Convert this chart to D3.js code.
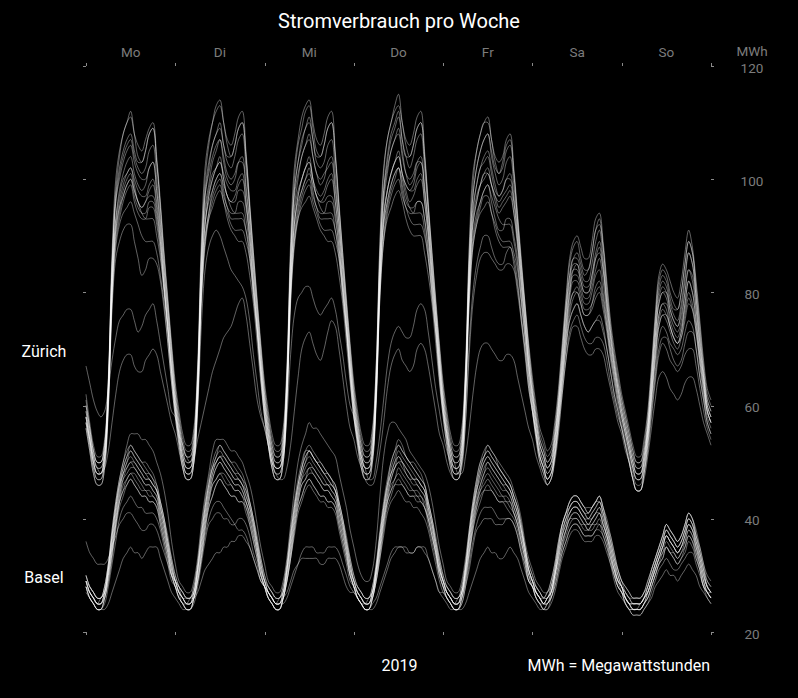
<!DOCTYPE html>
<html><head><meta charset="utf-8">
<script src="https://cdn.jsdelivr.net/npm/d3@7"></script>
<style>html,body{margin:0;background:#000;} svg{display:block;font-family:Roboto,"Noto Sans",sans-serif;}</style>
</head><body>
<svg id="chart" width="798" height="698"></svg>
<script>
// ---- labels ----
const days = ["Mo","Di","Mi","Do","Fr","Sa","So"];
const yTicks = [20,40,60,80,100,120];
const cities = ["Zürich","Basel"];

// ---- hourly consumption (MWh), one array per day Mo..So, last entry = Sunday 24:00 ----
const zh01 = [
[61,56,52,50,50,53,64,85,98,104,108,110,112,108,104,103,105,108,109,103,95,86,78,70],
[63,58,54,52,52,55,66,87,100,106,110,113,114,110,106,104,106,109,110,104,95,86,78,70],
[63,58,54,52,52,55,66,87,100,106,109,112,113,109,105,104,106,109,110,104,95,86,78,70],
[63,58,54,52,52,55,67,88,101,107,110,113,115,110,106,104,106,109,110,104,95,86,78,70],
[63,58,54,52,52,55,66,87,99,105,108,110,111,107,103,101,102,105,106,101,93,85,78,70],
[64,59,55,53,51,52,56,62,70,78,85,88,89,86,84,84,87,91,93,88,81,74,69,65],
[61,58,55,52,50,50,53,58,66,75,82,84,83,80,78,77,80,85,89,87,81,74,67,62],
[60]];
const zh02 = [
[60,56,52,50,50,53,64,84,96,101,104,106,107,104,102,101,102,105,106,100,93,84,77,69],
[62,57,53,51,51,54,65,85,97,102,106,108,110,106,103,102,104,107,108,102,94,85,77,69],
[62,57,53,51,51,54,65,86,98,103,107,109,111,107,103,102,103,106,107,101,93,85,77,69],
[62,57,53,51,51,54,66,86,98,104,108,110,112,107,104,102,104,107,108,102,94,85,77,69],
[62,57,53,51,51,54,65,85,97,102,105,107,108,104,101,99,100,103,104,99,92,84,77,69],
[63,58,54,52,50,51,55,61,69,77,83,86,86,84,82,82,85,89,91,86,79,73,68,64],
[60,57,54,51,49,49,52,57,65,74,80,82,81,78,76,75,78,83,87,85,79,72,66,61],
[59]];
const zh03 = [
[59,55,51,49,49,52,63,82,93,98,101,103,104,101,99,98,99,102,103,98,91,83,76,68],
[61,56,52,50,50,53,64,83,95,99,103,105,107,103,100,99,100,103,104,99,92,84,76,68],
[61,56,52,50,50,53,64,83,95,100,104,106,108,104,101,99,100,103,104,99,92,84,76,68],
[61,56,52,50,50,53,64,84,96,101,105,107,109,105,101,99,100,103,104,99,92,84,76,68],
[61,56,52,50,50,53,64,83,94,99,102,104,105,102,99,97,98,100,101,97,91,83,76,68],
[62,57,53,51,49,50,54,60,67,75,81,84,84,82,80,80,82,86,88,84,77,71,67,63],
[59,56,53,50,48,48,51,56,63,72,78,80,79,76,74,73,75,80,84,83,77,70,65,60],
[58]];
const zh04 = [
[58,54,50,48,48,51,62,80,91,95,98,100,101,98,96,95,96,98,99,95,89,81,74,66],
[60,55,51,49,49,52,63,81,92,97,100,102,104,100,97,96,97,99,100,96,90,82,75,67],
[60,55,51,49,49,52,63,81,92,97,100,102,104,100,97,96,97,99,100,96,90,82,75,67],
[60,55,51,49,49,52,63,82,93,98,101,103,105,101,98,96,97,99,100,96,90,82,75,67],
[60,55,51,49,49,52,63,81,92,96,99,101,102,99,96,94,95,96,97,94,89,81,74,67],
[61,56,52,50,48,49,53,59,66,73,79,82,82,80,78,78,80,83,84,80,75,70,66,62],
[58,55,52,49,47,47,50,55,62,70,76,78,77,74,72,71,73,78,82,80,75,69,64,59],
[57]];
const zh05 = [
[57,53,49,47,47,50,60,79,89,93,96,98,99,96,94,93,93,95,95,92,87,80,73,65],
[59,54,50,48,48,51,61,80,90,94,98,100,101,98,95,94,94,96,96,93,88,81,74,66],
[59,54,50,48,48,51,61,80,90,95,98,100,102,98,95,94,94,96,96,93,88,81,74,66],
[59,54,50,48,48,51,61,80,90,95,98,100,102,98,95,94,94,96,96,93,88,81,74,66],
[59,54,50,48,48,51,61,80,89,93,96,98,99,96,93,91,91,93,93,90,86,79,73,66],
[60,55,51,49,47,48,52,58,65,72,77,80,80,78,76,76,77,79,80,77,73,68,64,60],
[57,54,51,48,46,46,49,54,61,68,74,76,75,73,71,70,72,76,79,77,73,67,62,58],
[56]];
const zh06 = [
[56,52,48,46,46,49,59,77,86,89,91,92,92,89,86,83,84,86,86,85,82,77,71,64],
[58,53,49,47,47,50,60,78,88,93,96,98,99,96,94,92,91,91,91,89,86,79,73,65],
[58,53,49,47,47,50,60,78,88,93,96,98,99,96,94,92,91,91,91,89,86,79,73,65],
[58,53,49,47,47,50,60,79,89,94,97,99,100,97,95,93,92,92,92,90,86,79,73,65],
[58,53,49,47,47,50,60,78,88,92,95,97,97,94,92,90,89,89,89,87,84,78,72,65],
[59,54,50,48,46,47,51,57,64,70,75,77,78,76,74,73,74,75,76,74,70,66,62,59],
[56,53,50,47,45,45,48,53,60,66,72,74,73,71,70,69,70,73,75,74,70,65,61,57],
[55]];
const zh07 = [
[58,54,50,48,48,51,61,80,90,94,97,99,100,97,95,94,94,96,96,93,88,81,74,66],
[59,54,50,48,48,50,59,74,84,88,90,91,90,88,86,84,83,82,81,79,75,69,64,59],
[56,53,50,48,47,47,49,53,59,65,70,72,73,71,69,68,70,73,75,74,70,65,60,56],
[54,51,49,47,46,46,48,52,57,63,67,69,70,68,67,66,67,70,71,70,67,63,59,55],
[53,50,48,47,47,49,57,71,80,85,88,90,90,88,86,85,85,87,88,86,82,75,69,63],
[59,55,51,49,47,48,51,57,64,71,76,79,80,78,76,76,78,81,82,79,74,69,65,61],
[58,55,52,49,47,47,50,55,62,69,75,77,76,74,72,71,73,77,80,78,74,68,63,59],
[57]];
const zh08 = [
[67,64,61,59,58,59,63,68,72,75,76,77,77,75,73,74,76,77,78,75,71,67,63,59],
[58,55,53,51,50,51,54,57,60,63,66,68,70,72,73,74,76,78,79,76,71,66,61,58],
[56,53,50,49,49,51,58,69,76,79,80,81,81,79,77,76,77,78,79,77,73,69,64,60],
[58,54,50,48,48,51,62,82,93,98,101,103,104,101,99,98,99,102,103,98,91,83,76,68],
[60,55,51,49,49,52,62,81,92,96,99,101,101,99,97,96,97,98,99,96,89,82,75,67],
[62,57,53,51,49,50,54,60,67,74,80,84,85,82,80,80,83,87,89,85,78,72,67,63],
[59,56,53,50,48,48,51,56,64,72,79,81,80,77,75,74,77,82,87,85,79,71,65,60],
[58]];
const zh09 = [
[57,54,51,49,48,49,52,57,62,66,68,69,69,67,66,66,68,69,70,69,66,63,60,57],
[55,52,49,47,47,50,60,79,89,94,97,99,100,97,95,93,93,93,93,91,87,80,73,65],
[58,53,49,47,47,50,60,79,89,94,97,99,100,97,95,93,93,93,93,91,87,80,73,65],
[58,54,51,49,47,47,50,55,61,67,71,73,74,73,72,72,74,77,78,77,73,68,63,59],
[55,52,50,48,48,50,57,69,78,83,86,87,87,86,85,84,84,85,85,84,80,75,70,63],
[59,55,51,49,47,48,51,56,62,68,73,75,76,74,72,71,71,72,72,71,68,64,61,58],
[56,53,50,47,45,45,48,52,58,64,69,71,70,68,67,66,67,69,70,70,67,63,59,56],
[54]];
const zh10 = [
[58,54,50,48,48,51,62,81,92,96,99,101,102,99,96,95,96,97,97,94,89,81,74,66],
[60,55,51,49,49,52,62,81,92,97,100,102,103,100,97,96,96,98,98,95,89,81,74,66],
[60,55,51,49,49,52,62,81,92,97,100,102,103,100,97,96,96,97,97,94,88,81,74,66],
[60,55,51,49,49,52,62,81,92,96,99,101,102,99,96,95,95,96,96,93,87,80,73,65],
[59,55,52,50,48,48,51,56,62,67,70,71,71,70,69,68,68,69,69,68,65,62,59,56],
[54,51,49,47,46,47,50,55,62,68,72,74,74,72,70,69,69,70,70,69,66,63,60,57],
[55,52,50,47,45,45,47,51,56,61,65,66,65,63,62,61,62,64,65,65,63,60,57,55],
[53]];
const zh11 = [
[60,56,52,50,50,53,64,85,97,102,105,107,108,105,103,103,105,108,109,103,95,86,78,70],
[62,57,53,51,51,54,65,86,98,103,106,108,109,106,104,104,106,109,110,104,95,87,78,70],
[62,57,53,51,51,54,65,86,98,103,106,109,110,107,104,104,106,109,110,104,95,87,78,70],
[62,57,53,51,51,54,65,86,98,103,107,109,111,107,104,104,106,109,110,104,95,87,78,70],
[62,57,53,51,51,54,65,85,97,102,105,107,108,105,102,101,103,106,107,101,93,85,77,70],
[63,58,54,52,50,51,55,61,69,77,83,86,87,85,83,84,87,91,92,88,80,73,68,64],
[61,58,55,52,50,50,52,57,65,74,81,83,82,79,77,77,80,85,89,87,80,73,66,61],
[59]];
const zh12 = [
[59,55,51,49,49,52,63,84,96,100,103,105,106,103,101,100,100,102,103,98,92,84,76,68],
[61,56,52,50,50,53,64,85,97,101,104,106,107,104,101,100,101,103,103,98,92,84,76,68],
[61,56,52,50,50,53,64,85,97,101,104,106,107,104,101,100,101,102,103,98,92,84,76,68],
[61,56,52,50,50,53,64,85,97,102,105,107,108,104,101,100,101,103,103,98,92,84,76,68],
[61,56,52,50,50,53,64,84,95,99,102,103,104,101,98,97,98,100,100,96,90,83,75,68],
[62,57,53,51,49,50,54,60,68,76,82,85,85,83,81,81,83,86,87,84,78,72,67,63],
[60,57,54,51,49,49,51,56,64,72,78,80,80,77,75,74,76,80,84,82,77,71,65,60],
[58]];
const zh13 = [
[58,54,50,48,48,51,62,82,93,97,100,101,102,100,98,97,97,99,100,96,90,82,74,67],
[60,55,51,49,49,52,63,83,94,98,101,102,103,101,99,98,98,100,101,96,90,82,74,67],
[60,55,51,49,49,52,63,83,94,98,100,102,103,100,98,97,98,100,101,96,90,82,74,67],
[60,55,51,49,49,52,63,83,94,98,101,103,104,101,99,98,98,100,101,96,90,82,74,67],
[60,55,51,49,49,52,63,82,93,97,99,100,101,99,97,95,96,97,98,94,88,81,74,67],
[61,56,52,50,48,49,53,59,66,74,80,83,83,81,79,79,81,84,86,82,76,70,66,62],
[59,56,53,50,48,48,50,55,62,70,76,78,78,75,73,72,74,78,82,80,75,69,64,59],
[57]];
const zh14 = [
[57,53,49,47,47,50,61,80,91,95,97,99,100,98,96,94,93,93,93,90,86,80,73,66],
[59,54,50,48,48,51,62,81,92,96,98,100,101,99,97,95,94,94,94,91,86,80,73,66],
[59,54,50,48,48,51,62,81,92,96,98,100,101,99,97,95,94,94,94,91,86,80,73,66],
[59,54,50,48,48,51,62,81,92,96,99,101,102,100,97,95,94,94,94,91,86,80,73,66],
[59,54,50,48,48,51,62,80,90,94,96,98,99,97,95,93,92,92,92,89,85,79,72,65],
[60,55,51,49,47,48,52,58,65,72,78,80,81,79,77,77,78,80,81,78,74,69,65,61],
[58,55,52,49,47,47,49,54,61,68,74,76,76,74,72,71,72,75,78,77,73,68,63,59],
[57]];
const zh15 = [
[62,57,53,51,51,54,65,87,100,105,108,110,111,108,106,105,107,109,110,104,96,87,79,71],
[64,59,55,53,53,56,67,89,102,107,110,112,113,110,107,106,108,111,112,105,96,87,79,71],
[64,59,55,53,53,56,67,89,102,107,111,113,114,110,107,106,108,111,112,105,96,87,79,71],
[64,59,55,53,53,56,67,89,102,107,110,112,113,110,107,106,108,111,112,105,96,87,79,71],
[64,59,55,53,53,56,67,88,101,105,108,110,110,107,104,103,104,107,108,102,94,86,78,71],
[65,60,56,54,52,53,57,63,71,79,86,89,90,88,86,86,89,93,94,89,82,75,70,66],
[62,59,56,53,51,51,54,59,67,76,83,85,84,82,80,79,82,87,91,88,82,75,68,63],
[61]];
const zh16 = [
[56,52,48,46,46,49,60,78,88,92,94,95,96,94,92,90,89,89,89,87,83,78,71,64],
[58,53,49,47,47,50,61,79,89,93,95,97,98,96,93,91,90,89,89,87,83,78,71,64],
[58,53,49,47,47,50,61,79,89,93,95,96,97,95,93,91,90,89,89,87,83,78,71,64],
[58,53,49,47,47,50,61,79,89,93,95,97,98,96,93,91,90,90,90,87,83,78,71,64],
[58,53,49,47,47,50,61,78,88,92,94,95,96,94,91,89,88,88,88,85,81,76,70,64],
[59,54,50,48,46,47,51,57,63,70,75,77,78,76,74,73,74,75,75,73,70,66,62,59],
[56,53,50,47,45,45,48,53,59,65,70,72,72,70,68,67,68,71,73,73,70,65,61,57],
[55]];

const bs01 = [
[30,28,27,26,26,28,32,37,42,46,49,51,53,52,51,50,49,48,47,46,43,40,37,33],
[30,28,26,26,26,28,32,37,42,46,49,51,52,51,50,49,48,48,47,45,43,40,37,33],
[30,28,27,26,26,28,32,37,42,46,49,52,53,52,51,50,49,48,47,46,43,40,37,33],
[30,28,27,26,26,28,32,37,42,46,50,52,54,53,51,50,49,48,47,46,43,40,37,33],
[30,28,27,26,26,28,32,37,42,46,49,51,53,52,51,49,48,47,46,44,42,39,35,32],
[30,28,27,26,27,29,32,36,39,41,43,44,44,43,42,41,42,43,44,42,39,37,34,31],
[29,28,27,26,26,26,27,29,31,33,35,37,39,38,37,36,37,39,41,40,37,35,32,29],
[28]];
const bs02 = [
[29,27,26,25,26,27,31,36,41,45,48,50,52,51,50,49,48,47,46,45,42,39,36,32],
[29,27,26,25,26,27,31,36,41,45,48,50,51,50,49,48,47,47,46,44,42,39,36,32],
[29,27,26,25,26,27,31,36,41,45,48,50,52,51,50,49,48,47,46,45,42,39,36,32],
[29,27,26,25,26,27,31,36,41,45,48,50,52,51,50,49,48,47,46,45,42,39,36,32],
[29,27,26,25,26,27,31,36,41,45,48,50,51,50,49,48,47,46,45,43,41,38,35,31],
[29,27,26,26,26,28,31,35,38,40,42,43,43,42,41,40,41,42,43,41,38,36,33,30],
[28,27,26,25,25,25,26,28,30,32,34,36,38,37,36,35,36,38,40,39,36,34,31,28],
[27]];
const bs03 = [
[29,27,26,25,25,27,31,35,40,44,47,49,50,49,48,47,46,46,45,44,41,38,35,31],
[29,27,25,25,25,27,31,35,40,44,47,49,50,49,48,47,46,46,45,43,41,38,35,31],
[29,27,26,25,25,27,31,35,40,44,47,49,50,49,48,47,46,46,45,44,41,38,35,31],
[29,27,26,25,25,27,31,35,40,44,47,49,51,50,48,47,46,46,45,44,41,38,35,31],
[29,27,26,25,25,27,31,35,40,44,46,48,50,49,48,47,46,45,44,42,40,37,34,31],
[29,27,26,25,26,27,30,34,37,39,41,42,42,41,40,39,40,41,42,40,37,35,32,29],
[28,26,25,24,24,25,26,27,29,31,33,35,37,36,35,34,35,37,39,38,35,33,30,28],
[27]];
const bs04 = [
[28,26,25,24,24,26,30,34,39,43,45,47,48,48,47,46,45,45,44,43,40,37,34,30],
[28,26,25,24,24,26,30,34,39,43,46,47,48,48,47,46,45,45,44,42,40,37,34,30],
[28,26,25,24,24,26,30,34,39,43,46,47,49,48,47,46,45,45,44,43,40,37,34,30],
[28,26,25,24,24,26,30,34,39,43,46,47,49,48,47,46,45,45,44,43,40,37,34,30],
[28,26,25,24,24,26,30,34,39,43,45,47,48,47,46,45,44,44,43,41,39,36,33,30],
[28,26,25,25,25,27,30,33,36,38,40,41,41,40,39,38,39,40,41,39,37,34,31,29],
[27,26,25,24,24,24,25,27,29,31,33,34,36,35,34,33,34,36,38,37,34,32,29,27],
[26]];
const bs05 = [
[28,26,25,24,24,26,29,33,38,42,44,46,47,46,45,44,44,43,43,42,39,36,33,30],
[28,26,25,24,24,26,29,33,38,42,44,46,47,46,45,44,44,43,43,41,39,36,33,30],
[28,26,25,24,24,26,29,33,38,42,44,46,47,46,45,44,44,43,43,42,39,36,33,30],
[28,26,25,24,24,26,29,33,38,42,44,46,47,46,45,44,44,43,43,42,39,36,33,30],
[28,26,25,24,24,26,29,33,38,41,43,45,46,45,44,43,43,42,41,40,38,35,32,29],
[28,26,25,24,25,26,29,32,35,37,39,40,40,39,38,38,38,39,39,38,36,33,31,28],
[27,25,24,24,24,24,25,26,28,30,32,33,35,34,33,32,33,35,37,36,33,31,28,27],
[26]];
const bs06 = [
[30,28,27,26,26,28,32,38,43,47,50,53,55,55,55,54,54,53,52,50,48,45,41,36],
[32,29,28,27,27,29,33,39,44,48,52,54,54,54,53,52,52,51,50,48,46,43,39,35],
[32,29,28,27,27,29,33,39,45,50,53,55,57,56,56,55,54,53,52,51,48,45,42,38],
[35,32,30,29,29,31,36,44,51,55,57,57,56,55,54,52,51,50,49,48,46,43,39,35],
[32,29,28,27,27,29,33,38,43,47,50,52,53,52,51,50,49,48,47,45,43,40,36,33],
[31,29,28,27,27,29,32,36,39,41,43,44,44,43,42,41,42,43,44,42,40,37,34,31],
[29,28,27,26,26,26,27,29,31,33,35,37,39,38,37,36,37,39,41,40,38,35,32,30],
[29]];
const bs07 = [
[29,27,26,25,25,27,30,34,39,43,45,46,47,46,45,44,44,43,43,42,39,36,33,30],
[29,27,26,25,25,26,29,33,37,40,42,43,43,42,41,40,39,38,38,37,35,33,31,29],
[28,27,26,25,25,25,26,28,30,32,34,35,35,35,34,34,34,35,35,35,34,32,30,28],
[27,26,25,24,24,24,25,27,29,31,33,34,35,35,34,34,34,35,35,34,33,31,29,27],
[27,26,25,24,24,25,28,32,36,39,41,42,42,42,41,40,40,40,40,39,37,34,32,29],
[28,27,26,25,25,26,28,31,34,36,38,39,39,38,37,37,37,38,39,37,35,33,30,28],
[27,26,25,24,24,24,25,26,28,30,32,33,35,34,33,32,33,34,36,35,33,31,28,27],
[26]];
const bs08 = [
[36,34,33,32,32,32,33,35,37,39,40,41,41,40,39,38,38,39,39,38,36,34,32,30],
[29,28,27,26,26,26,27,29,31,32,33,34,34,35,35,36,36,37,37,36,35,33,31,29],
[28,27,26,25,25,26,27,29,31,32,33,33,33,33,33,32,32,33,33,33,32,30,28,27],
[27,26,25,25,25,27,30,35,40,43,45,46,46,46,45,44,44,44,43,42,40,37,34,31],
[29,27,26,25,25,27,30,34,39,42,44,45,45,45,44,43,43,43,42,41,39,36,33,30],
[29,27,26,25,26,27,30,33,36,38,40,41,41,40,39,39,39,40,41,39,37,34,31,29],
[28,26,25,25,25,25,26,27,29,31,33,35,37,36,35,34,35,37,39,38,35,32,29,27],
[27]];
const bs09 = [
[27,26,25,24,24,24,25,27,29,31,33,34,35,34,34,33,34,35,35,35,33,31,29,27],
[26,25,24,24,24,26,29,33,38,42,44,46,47,46,45,44,44,43,43,42,39,36,33,30],
[28,26,25,24,24,26,29,33,38,42,44,46,47,46,45,44,44,43,43,42,39,36,33,30],
[28,26,25,24,24,25,26,28,30,32,34,35,35,35,35,34,34,35,35,35,33,31,29,27],
[26,25,24,24,24,25,28,31,35,38,39,40,40,40,39,39,39,40,40,39,37,34,31,29],
[28,26,25,24,24,26,28,31,34,36,38,39,39,38,37,37,37,38,38,37,35,32,30,28],
[27,25,24,23,23,23,24,25,27,29,31,32,33,32,31,31,32,33,34,34,32,30,28,26],
[25]];
const bs10 = [
[28,26,25,24,24,25,28,32,36,40,42,43,44,43,42,42,41,41,41,40,38,35,32,29],
[28,26,25,24,24,25,28,32,36,39,40,41,41,40,40,39,39,40,40,39,37,34,32,29],
[28,26,25,24,24,26,29,33,37,41,43,45,46,45,44,43,43,42,42,41,38,35,32,29],
[28,26,25,24,24,26,29,33,37,41,43,44,45,44,43,43,42,42,41,40,38,35,32,29],
[27,26,25,24,24,24,25,27,29,31,33,34,35,34,34,33,33,34,35,34,33,31,29,27],
[26,25,24,24,24,25,27,30,33,35,37,38,38,37,36,36,36,37,37,36,34,32,29,27],
[26,25,24,23,23,23,24,25,26,28,29,30,31,30,30,29,30,31,32,31,30,28,27,26],
[25]];
const bs11 = [
[30,28,27,26,26,28,32,38,43,47,50,52,53,52,51,50,50,49,48,46,43,40,36,33],
[30,28,27,26,26,28,32,38,43,47,50,52,53,52,51,50,50,49,48,46,43,40,36,33],
[30,28,27,26,26,28,32,38,43,47,50,52,52,51,50,50,49,48,47,46,43,40,36,33],
[30,28,27,26,26,28,32,38,43,47,50,52,53,52,51,50,50,49,48,46,43,40,36,33],
[30,28,27,26,26,28,32,38,43,47,50,51,52,51,50,49,48,47,46,44,42,39,35,32],
[30,28,27,26,27,28,31,35,39,41,43,44,44,43,42,42,42,43,44,42,39,36,33,31],
[29,27,26,26,26,26,27,28,31,33,35,37,39,38,37,36,37,39,41,40,37,34,31,29],
[28]];
const bs12 = [
[29,27,26,25,25,27,31,37,42,46,48,50,51,50,49,48,47,47,46,45,42,39,35,32],
[29,27,26,25,25,27,31,37,42,46,49,50,51,51,50,49,48,47,46,45,42,39,35,32],
[29,27,26,25,25,27,31,37,42,46,49,51,52,51,50,49,48,47,46,45,42,39,35,32],
[29,27,26,25,25,27,31,37,42,46,48,50,51,50,49,48,47,47,46,45,42,39,35,32],
[29,27,26,25,25,27,31,37,42,45,48,50,51,50,49,48,47,46,45,43,41,38,34,31],
[29,27,26,25,26,27,30,34,38,40,42,43,43,42,41,40,41,42,43,41,38,35,32,30],
[28,26,25,25,25,25,26,28,30,32,34,36,38,37,36,35,36,38,40,39,36,33,30,28],
[27]];
const bs13 = [
[28,27,26,25,25,26,30,35,40,44,47,48,49,49,48,47,46,46,45,44,41,38,34,31],
[28,27,26,25,25,26,30,35,40,44,47,49,50,49,48,47,46,46,45,43,41,38,34,31],
[28,27,26,25,25,26,30,35,40,44,47,48,49,49,48,47,46,46,45,44,41,38,34,31],
[28,27,26,25,25,26,30,35,40,44,47,49,50,49,48,47,47,46,45,44,41,38,34,31],
[28,27,26,25,25,26,30,35,40,43,46,48,49,48,47,46,45,45,44,42,40,37,34,30],
[28,27,26,25,25,27,30,33,37,39,41,42,42,41,40,39,40,41,41,39,37,34,31,29],
[28,26,25,24,24,24,25,27,29,31,33,35,37,36,35,34,35,36,38,37,35,32,29,27],
[26]];
const bs14 = [
[28,26,25,24,24,26,29,34,39,43,46,47,48,47,46,45,45,44,44,43,40,37,34,30],
[28,26,25,24,24,26,29,34,39,43,46,47,48,47,46,46,45,45,44,43,40,37,34,30],
[28,26,25,24,24,26,29,34,39,43,46,47,48,48,47,46,45,45,44,43,40,37,34,30],
[28,26,25,24,24,26,29,34,39,43,45,47,48,47,46,45,45,44,44,42,40,37,34,30],
[28,26,25,24,24,26,29,34,38,42,45,46,47,46,45,44,44,43,43,41,39,36,33,29],
[28,26,25,24,25,26,29,32,35,38,40,40,40,39,39,38,39,39,40,38,36,33,30,28],
[27,25,24,24,24,24,25,26,28,30,32,34,35,34,34,33,34,35,37,36,34,31,28,27],
[26]];
const bs15 = [
[29,28,27,26,26,27,31,37,42,46,49,51,52,51,50,49,48,48,47,45,43,40,36,32],
[29,28,27,26,26,27,31,37,42,46,49,51,53,52,51,50,49,48,47,46,43,40,36,32],
[29,28,27,26,26,27,31,37,42,46,49,51,52,51,50,49,48,48,47,45,43,40,36,32],
[29,28,27,26,26,27,31,37,42,46,49,51,53,52,51,50,49,48,47,46,43,40,36,32],
[29,28,27,26,26,27,31,37,42,46,49,51,52,51,50,49,48,47,46,44,42,38,35,31],
[29,28,27,26,26,28,31,35,39,41,42,43,43,42,41,41,42,43,43,41,39,36,33,30],
[28,27,26,25,25,25,26,28,30,32,34,36,38,37,36,35,36,38,40,39,37,34,31,28],
[27]];
const bs16 = [
[29,27,26,25,25,27,31,36,41,45,48,49,50,50,49,48,47,47,46,45,42,39,35,31],
[29,27,26,25,25,27,31,36,41,45,48,50,51,50,49,48,47,47,46,44,42,39,35,31],
[29,27,26,25,25,27,31,36,41,45,48,50,51,50,49,48,47,46,46,45,42,39,35,31],
[29,27,26,25,25,27,31,36,41,45,48,49,50,50,49,48,47,47,46,45,42,39,35,31],
[29,27,26,25,25,27,31,36,41,45,47,49,50,49,48,47,46,46,45,43,41,38,34,31],
[29,27,26,25,26,27,30,34,37,40,41,42,42,41,40,40,40,41,42,40,38,35,32,29],
[28,26,25,25,25,25,26,27,29,32,34,35,37,36,35,34,35,37,39,38,36,33,30,28],
[27]];

const zurichWeeks = [zh01,zh02,zh03,zh04,zh05,zh06,zh07,zh08,zh09,zh10,zh11,zh12,zh13,zh14,zh15,zh16];
const baselWeeks  = [bs01,bs02,bs03,bs04,bs05,bs06,bs07,bs08,bs09,bs10,bs11,bs12,bs13,bs14,bs15,bs16];

// ---- drawing ----
const svg = d3.select("#chart");
svg.append("rect").attr("width",798).attr("height",698).attr("fill","#000");

const x = d3.scaleLinear().domain([0, 168]).range([86, 711]);
const y = d3.scaleLinear().domain([20, 120]).range([632, 66]);

const toPoints = week => week.flatMap((day, d) => day.map((v, h) => [d * 24 + h, v]));
const line = d3.line().x(p => x(p[0])).y(p => y(p[1])).curve(d3.curveCatmullRom.alpha(0.5));

const gLines = svg.append("g");
[zurichWeeks, baselWeeks].forEach(weeks => {
  gLines.selectAll(null).data(weeks).enter().append("path")
    .attr("d", w => line(toPoints(w)))
    .attr("fill", "none")
    .attr("stroke", "#fff")
    .attr("stroke-opacity", 0.38)
    .attr("stroke-width", 1);
});

const tickColor = "#8a8a8a";
const dayBounds = d3.range(0, 169, 24);
function styleAxis(g){
  g.select(".domain").remove();
  g.selectAll(".tick line").attr("stroke", tickColor).attr("shape-rendering","crispEdges");
  g.selectAll(".tick text").remove();
}
svg.append("g").attr("transform","translate(0,66)")
  .call(d3.axisTop(x).tickValues(dayBounds).tickSize(3).tickFormat("")).call(styleAxis);
svg.append("g").attr("transform","translate(0,632)")
  .call(d3.axisBottom(x).tickValues(dayBounds).tickSize(3).tickFormat("")).call(styleAxis);
svg.append("g").attr("transform","translate(86,0)")
  .call(d3.axisLeft(y).tickValues(yTicks).tickSize(3).tickFormat("")).call(styleAxis);
svg.append("g").attr("transform","translate(711,0)")
  .call(d3.axisRight(y).tickValues(yTicks).tickSize(3).tickFormat("")).call(styleAxis);

// day labels
svg.append("g").selectAll("text").data(days).enter().append("text")
  .attr("x", (d,i) => x(i * 24 + 12)).attr("y", 57)
  .attr("text-anchor","middle").attr("font-size",13.5).attr("fill","#7c7c7c").text(d => d);

// right axis labels
svg.append("g").selectAll("text").data(yTicks).enter().append("text")
  .attr("x", 752).attr("y", d => y(d) + 6.5)
  .attr("text-anchor","middle").attr("font-size",13.5).attr("fill","#7c7c7c").text(d => d);
svg.append("text").attr("x",752).attr("y",56).attr("text-anchor","middle")
  .attr("font-size",13.5).attr("fill","#7c7c7c").text("MWh");

// title & annotations
svg.append("text").attr("x",399).attr("y",28).attr("text-anchor","middle")
  .attr("font-size",20).attr("fill","#fff").text("Stromverbrauch pro Woche");
svg.append("text").attr("x",44).attr("y",357).attr("text-anchor","middle")
  .attr("font-size",16).attr("fill","#fff").text(cities[0]);
svg.append("text").attr("x",44).attr("y",583).attr("text-anchor","middle")
  .attr("font-size",16).attr("fill","#fff").text(cities[1]);
svg.append("text").attr("x",399.5).attr("y",671).attr("text-anchor","middle")
  .attr("font-size",16).attr("fill","#fff").text("2019");
svg.append("text").attr("x",710).attr("y",671).attr("text-anchor","end")
  .attr("font-size",16).attr("fill","#fff").text("MWh = Megawattstunden");
</script>
</body></html>
